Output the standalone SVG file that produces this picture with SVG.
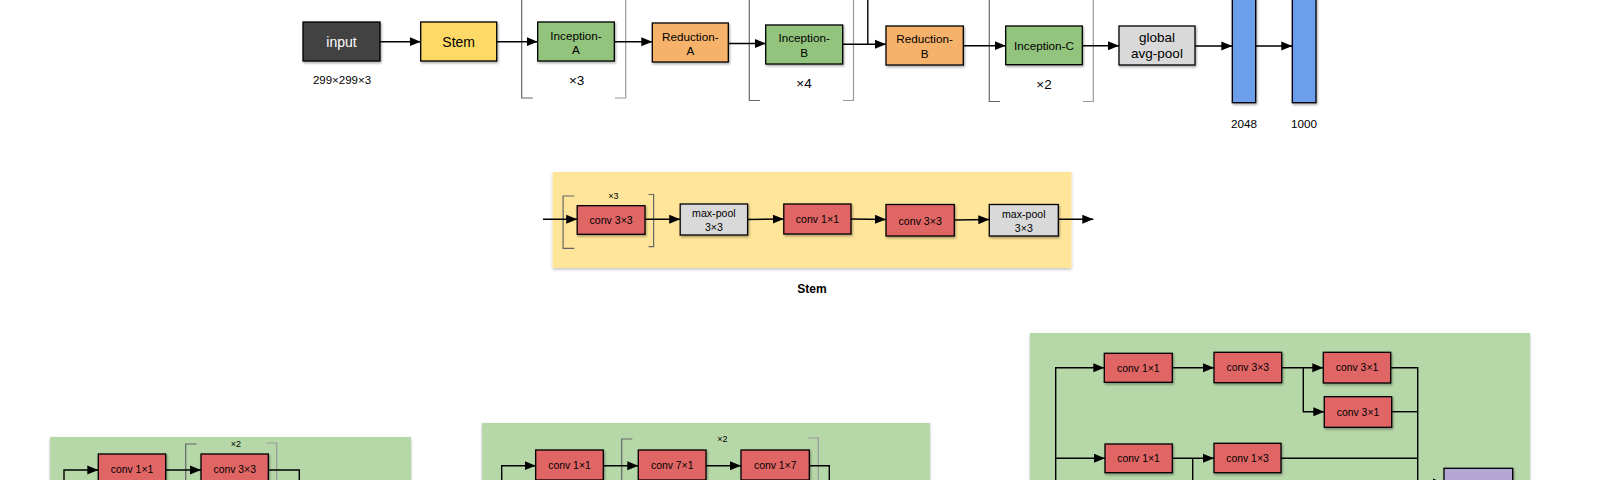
<svg xmlns="http://www.w3.org/2000/svg" width="1600" height="480" viewBox="0 0 1600 480">
<defs>
<filter id="sh" x="-10%" y="-10%" width="130%" height="140%">
<feDropShadow dx="1" dy="1.5" stdDeviation="1" flood-color="#000" flood-opacity="0.35"/>
</filter>
<filter id="psh" x="-5%" y="-5%" width="110%" height="120%">
<feDropShadow dx="0" dy="1.5" stdDeviation="1.5" flood-color="#000" flood-opacity="0.25"/>
</filter>
<marker id="ah" markerUnits="userSpaceOnUse" markerWidth="12" markerHeight="10" refX="11" refY="5" orient="auto">
<path d="M0,0.5 L11,5 L0,9.5 z" fill="#000"/>
</marker>
</defs>
<style>
text{font-family:"Liberation Sans",Arial,sans-serif;fill:#000;text-anchor:middle;dominant-baseline:central}
.b{stroke:#000;stroke-width:1.3;filter:url(#sh)}
.dark{fill:#434343}.yel{fill:#FFD966}.grn{fill:#93C47D}.org{fill:#F6B26B}.gry{fill:#D9D9D9}.blu{fill:#6D9EEB}.red{fill:#E06666}.pur{fill:#B4A7D6}
.c line,.c polyline,.c path{stroke:#000;stroke-width:1.4;fill:none}
.a{marker-end:url(#ah)}
.br{stroke:#666;stroke-width:1.2;fill:none}
.br2{stroke:#999;stroke-width:1.2;fill:none}
.t14{font-size:14px}.t12{font-size:11.7px}.t13{font-size:13.5px}.t11{font-size:11.5px}.t10{font-size:10.4px}.ts{font-size:10.6px}.t9{font-size:9px}
</style>

<!-- panels -->
<rect id="stem-panel" x="552.7" y="172" width="518.8" height="96" fill="#FFE599" filter="url(#psh)"/>
<rect id="panelA" x="50" y="437" width="361" height="60" fill="#B6D7A8" filter="url(#psh)"/>
<rect id="panelB" x="482" y="423" width="448" height="70" fill="#B6D7A8" filter="url(#psh)"/>
<rect id="panelC" x="1030" y="333" width="500" height="160" fill="#B6D7A8" filter="url(#psh)"/>

<!-- brackets -->
<g id="brackets">
<polyline class="br" points="532.7,98 521.7,98 521.7,-2"/>
<polyline class="br2" points="615,98 625.7,98 625.7,-2"/>
<polyline class="br" points="760,100.5 749.3,100.5 749.3,-2"/>
<polyline class="br2" points="843,100.5 853.5,100.5 853.5,-2"/>
<polyline class="br" points="1000,101.5 989.3,101.5 989.3,-2"/>
<polyline class="br2" points="1083,101.5 1093.3,101.5 1093.3,-2"/>
<polyline class="br" points="574.4,196 563.1,196 563.1,248.3 574.4,248.3"/>
<polyline class="br" points="648.5,194.5 653.6,194.5 653.6,246.7 648.5,246.7"/>
<polyline class="br" points="196.7,444 185.7,444 185.7,485"/>
<polyline class="br2" points="266.7,443 276.7,443 276.7,485"/>
<polyline class="br" points="632.3,439 621.7,439 621.7,485"/>
<polyline class="br2" points="807.7,438 818.3,438 818.3,485"/>
</g>

<!-- connectors -->
<g id="connectors" class="c">
<line class="a" x1="380" y1="41.7" x2="420.7" y2="41.7"/>
<line class="a" x1="496.7" y1="41.7" x2="537.7" y2="41.7"/>
<line class="a" x1="614.3" y1="41.7" x2="652.3" y2="41.7"/>
<line class="a" x1="728.3" y1="43.5" x2="765.7" y2="43.5"/>
<line class="a" x1="842.7" y1="44.3" x2="886" y2="44.3"/>
<line x1="867.8" y1="-2" x2="867.8" y2="44.3"/>
<line class="a" x1="963.3" y1="45.7" x2="1005.7" y2="45.7"/>
<line class="a" x1="1082.3" y1="45.7" x2="1119" y2="45.7"/>
<line class="a" x1="1195" y1="46" x2="1232.3" y2="46"/>
<line class="a" x1="1255.7" y1="46" x2="1292.3" y2="46"/>

<line class="a" x1="543" y1="219.3" x2="577.2" y2="219.3"/>
<line class="a" x1="645" y1="219.3" x2="680.2" y2="219.3"/>
<line class="a" x1="747.6" y1="219.5" x2="783.8" y2="219"/>
<line class="a" x1="851" y1="219" x2="886" y2="219.5"/>
<line class="a" x1="954.3" y1="220" x2="989.3" y2="219.5"/>
<line class="a" x1="1058.3" y1="219.3" x2="1093.3" y2="219.3"/>

<polyline class="a" points="64,485 64,470 98.3,470"/>
<line class="a" x1="165.7" y1="470" x2="201" y2="470"/>
<polyline points="268.3,470 299.3,470 299.3,485"/>

<polyline class="a" points="501.7,485 501.7,465.7 535.7,465.7"/>
<line class="a" x1="603.3" y1="465.7" x2="638.3" y2="465.7"/>
<line class="a" x1="706" y1="465.7" x2="741" y2="465.7"/>
<polyline points="809.3,465.7 829.3,465.7 829.3,485"/>

<polyline class="a" points="1055.7,490 1055.7,367.7 1104.3,367.7"/>
<line class="a" x1="1055.7" y1="458.3" x2="1105" y2="458.3"/>
<line class="a" x1="1172.3" y1="367.7" x2="1214" y2="367.7"/>
<line class="a" x1="1281.7" y1="367.7" x2="1323.3" y2="367.7"/>
<polyline class="a" points="1303.3,367.7 1303.3,411.7 1324.3,411.7"/>
<polyline points="1390.7,367.7 1417.7,367.7 1417.7,490"/>
<line x1="1391.7" y1="411.7" x2="1417.7" y2="411.7"/>
<line class="a" x1="1172.3" y1="458.3" x2="1214" y2="458.3"/>
<line x1="1192.7" y1="458.3" x2="1192.7" y2="490"/>
<line x1="1281" y1="458.3" x2="1417.7" y2="458.3"/>
<line class="a" x1="1417.7" y1="483" x2="1444" y2="483"/>
</g>

<!-- top row nodes -->
<g id="input"><rect class="b dark" x="303" y="22" width="77" height="39"/><text class="t14" x="341.5" y="41.5" style="fill:#fff">input</text></g>
<text class="t11" x="342" y="80">299×299×3</text>
<g id="stem"><rect class="b yel" x="420.7" y="22" width="76" height="39"/><text class="t14" x="458.7" y="41.5">Stem</text></g>
<g id="inceptionA"><rect class="b grn" x="537.7" y="22" width="76.6" height="39"/><text class="t12" x="576" y="35">Inception-</text><text class="t12" x="576" y="49.3">A</text></g>
<text class="t13" x="576.7" y="80">×3</text>
<g id="reductionA"><rect class="b org" x="652.3" y="23" width="76" height="39"/><text class="t12" x="690.3" y="36">Reduction-</text><text class="t12" x="690.3" y="50">A</text></g>
<g id="inceptionB"><rect class="b grn" x="765.7" y="25" width="77" height="39"/><text class="t12" x="804.2" y="37.5">Inception-</text><text class="t12" x="804.2" y="52">B</text></g>
<text class="t13" x="804" y="83">×4</text>
<g id="reductionB"><rect class="b org" x="886" y="26" width="77.3" height="39"/><text class="t12" x="924.6" y="38.5">Reduction-</text><text class="t12" x="924.6" y="53">B</text></g>
<g id="inceptionC"><rect class="b grn" x="1005.7" y="26" width="76.6" height="38.7"/><text class="t12" x="1044" y="45.5">Inception-C</text></g>
<text class="t13" x="1044" y="84">×2</text>
<g id="avgpool"><rect class="b gry" x="1119" y="26" width="76" height="39"/><text class="t13" x="1157" y="37.5">global</text><text class="t13" x="1157" y="53">avg-pool</text></g>
<g id="fc2048"><rect class="b blu" x="1232.3" y="-5" width="23.4" height="107.7"/></g>
<text class="t12" x="1244" y="123">2048</text>
<g id="fc1000"><rect class="b blu" x="1292.3" y="-5" width="23.7" height="107.7"/></g>
<text class="t12" x="1304" y="123">1000</text>

<!-- stem detail -->
<text class="t9" x="613.3" y="196">×3</text>
<g id="s-conv1"><rect class="b red" x="577.2" y="205.7" width="67.8" height="28.6"/><text class="ts" x="611.1" y="220">conv 3×3</text></g>
<g id="s-pool1"><rect class="b gry" x="680.2" y="204" width="67.4" height="31"/><text class="ts" x="713.9" y="213.3">max-pool</text><text class="ts" x="713.9" y="226.5">3×3</text></g>
<g id="s-conv2"><rect class="b red" x="783.8" y="204" width="67.2" height="30"/><text class="ts" x="817.4" y="219">conv 1×1</text></g>
<g id="s-conv3"><rect class="b red" x="886" y="204.5" width="68.3" height="31.5"/><text class="ts" x="920.2" y="220.5">conv 3×3</text></g>
<g id="s-pool2"><rect class="b gry" x="989.3" y="204.5" width="69" height="31.5"/><text class="ts" x="1023.8" y="214">max-pool</text><text class="ts" x="1023.8" y="227.5">3×3</text></g>
<text x="812" y="289.3" style="font-size:12px;font-weight:bold">Stem</text>

<!-- panel A detail -->
<text class="t9" x="236" y="444">×2</text>
<g id="a-conv1"><rect class="b red" x="98.3" y="454" width="67.4" height="30"/><text class="t10" x="132" y="469">conv 1×1</text></g>
<g id="a-conv2"><rect class="b red" x="201" y="454" width="67.3" height="30"/><text class="t10" x="234.7" y="469">conv 3×3</text></g>

<!-- panel B detail -->
<text class="t9" x="722.3" y="439">×2</text>
<g id="b-conv1"><rect class="b red" x="535.7" y="450" width="67.6" height="30"/><text class="t10" x="569.5" y="465.5">conv 1×1</text></g>
<g id="b-conv2"><rect class="b red" x="638.3" y="450" width="67.7" height="30"/><text class="t10" x="672.2" y="465.5">conv 7×1</text></g>
<g id="b-conv3"><rect class="b red" x="741" y="450" width="68.3" height="30"/><text class="t10" x="775.2" y="465.5">conv 1×7</text></g>

<!-- panel C detail -->
<g id="c-conv1"><rect class="b red" x="1104.3" y="353.3" width="68" height="29"/><text class="t10" x="1138.3" y="368">conv 1×1</text></g>
<g id="c-conv2"><rect class="b red" x="1214" y="352.3" width="67.7" height="30.4"/><text class="t10" x="1247.8" y="367.5">conv 3×3</text></g>
<g id="c-conv3"><rect class="b red" x="1323.3" y="352.3" width="67.4" height="30.7"/><text class="t10" x="1357" y="367.7">conv 3×1</text></g>
<g id="c-conv4"><rect class="b red" x="1324.3" y="396.7" width="67.4" height="30.6"/><text class="t10" x="1358" y="412">conv 3×1</text></g>
<g id="c-conv5"><rect class="b red" x="1105" y="444" width="67.3" height="28.7"/><text class="t10" x="1138.6" y="458.5">conv 1×1</text></g>
<g id="c-conv6"><rect class="b red" x="1214" y="443.3" width="67" height="29.4"/><text class="t10" x="1247.5" y="458">conv 1×3</text></g>
<g id="c-concat"><rect class="b pur" x="1444" y="468.3" width="68.7" height="30"/></g>
</svg>
